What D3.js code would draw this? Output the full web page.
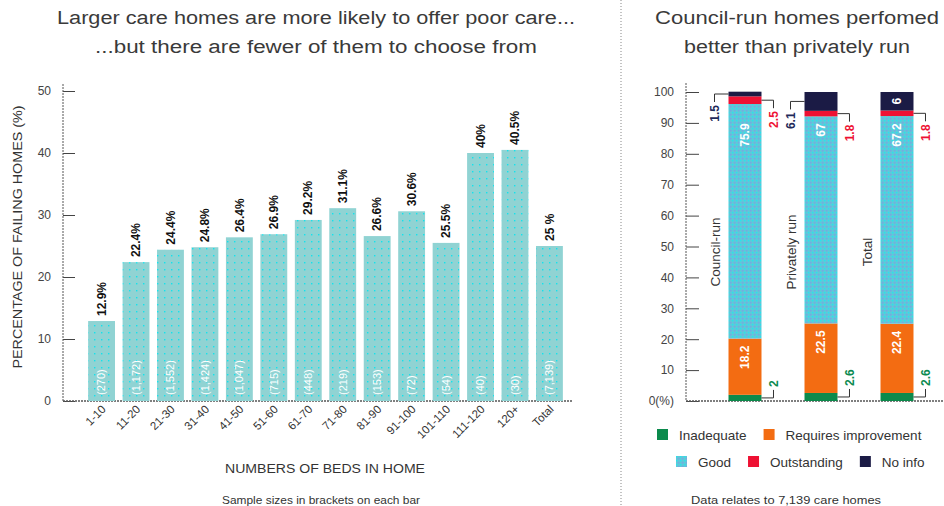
<!DOCTYPE html>
<html><head><meta charset="utf-8">
<script src="https://cdn.jsdelivr.net/npm/d3@7"></script>
<style>
body{margin:0;background:#fff}
svg{display:block}
text{font-family:"Liberation Sans",Arial,sans-serif}
</style>
</head><body><div id="chart"></div>
<script>
// ---------- DATA ----------
const bedCategories = ["1-10","11-20","21-30","31-40","41-50","51-60","61-70","71-80","81-90","91-100","101-110","111-120","120+","Total"];
const failingPct = [12.9,22.4,24.4,24.8,26.4,26.9,29.2,31.1,26.6,30.6,25.5,40,40.5,25];
const failingLabels = ["12.9%","22.4%","24.4%","24.8%","26.4%","26.9%","29.2%","31.1%","26.6%","30.6%","25.5%","40%","40.5%","25 %"];
const sampleSizes = ["(270)","(1,172)","(1,552)","(1,424)","(1,047)","(715)","(448)","(219)","(153)","(72)","(54)","(40)","(30)","(7,139)"];
const leftYTicks = [0,10,20,30,40,50];

const ownerCategories = ["Council-run","Privately run","Total"];
const ratingSeries = ["Inadequate","Requires improvement","Good","Outstanding","No info"];
const inadequate = [2,2.6,2.6];
const requiresImprovement = [18.2,22.5,22.4];
const good = [75.9,67,67.2];
const outstanding = [2.5,1.8,1.8];
const noInfo = [1.5,6.1,6];
const rightYTicks = [0,10,20,30,40,50,60,70,80,90,100];
const rightYTickLabels = ["0(%)","10","20","30","40","50","60","70","80","90","100"];

const leftTitle = ["Larger care homes are more likely to offer poor care...","...but there are fewer of them to choose from"];
const rightTitle = ["Council-run homes perfomed","better than privately run"];

// ---------- SETUP ----------
const W = 944, H = 506;
const svg = d3.select("#chart").append("svg").attr("width", W).attr("height", H);
const defs = svg.append("defs");

const pL = defs.append("pattern").attr("id","dotsL").attr("patternUnits","userSpaceOnUse").attr("width",7).attr("height",7);
pL.append("rect").attr("width",7).attr("height",7).attr("fill","#90d3d3");
pL.append("rect").attr("x",3).attr("y",3).attr("width",1.4).attr("height",1.4).attr("fill","#10e4ee");

const pG = defs.append("pattern").attr("id","dotsG").attr("patternUnits","userSpaceOnUse").attr("width",4).attr("height",4);
pG.append("rect").attr("width",4).attr("height",4).attr("fill","#5ec8d8");
pG.append("rect").attr("x",0).attr("y",0).attr("width",1.3).attr("height",1.3).attr("fill","#22e6f0");
pG.append("rect").attr("x",2).attr("y",2).attr("width",1.3).attr("height",1.3).attr("fill","#7f9ee6");

const seriesFill = {"Inadequate":"#0b8a4c","Requires improvement":"#f36c12","Good":"url(#dotsG)","Outstanding":"#ee1133","No info":"#1b1b45"};
const seriesText = {"Inadequate":"#0a8a50","Requires improvement":"#ffffff","Good":"#ffffff","Outstanding":"#ee1133","No info":"#1f2a5a"};
// where each "No info" label goes (style only)
const noInfoLabelSide = {"Council-run":"left","Privately run":"left","Total":"inside"};

// titles
function title(lines, cx, lens) {
  lines.forEach((t,i) => {
    svg.append("text").attr("x",cx).attr("y",24 + i*29).attr("text-anchor","middle")
      .attr("font-size",18).attr("fill","#3a3a3a")
      .attr("textLength",lens[i]).attr("lengthAdjust","spacingAndGlyphs").text(t);
  });
}
title(leftTitle, 316, [518, 442]);
title(rightTitle, 797, [284, 226]);

// separator
svg.append("line").attr("x1",621).attr("x2",621).attr("y1",0).attr("y2",H)
  .attr("stroke","#888").attr("stroke-dasharray","1,2");

// ---------- LEFT CHART ----------
const yL = d3.scaleLinear().domain([0,50]).range([401,91]);
const xL = d3.scaleBand().domain(bedCategories).range([84,567]).paddingInner(0.22).paddingOuter(0.12);

const gL = svg.append("g");
const axL = gL.append("g").attr("transform","translate(63,0)")
  .call(d3.axisLeft(yL).tickValues(leftYTicks).tickSize(-12).tickSizeOuter(0).tickPadding(12).tickFormat(d3.format("d")));
axL.select(".domain").remove();
axL.selectAll(".tick line").attr("stroke","#444");
axL.selectAll(".tick text").attr("font-size",12).attr("fill","#444").attr("font-family","Liberation Sans, Arial, sans-serif");
gL.append("line").attr("x1",63).attr("x2",63).attr("y1",84).attr("y2",401).attr("stroke","#555").attr("stroke-dasharray","2,1");
gL.append("line").attr("x1",63).attr("x2",572).attr("y1",401).attr("y2",401).attr("stroke","#555").attr("stroke-width",1.5).attr("stroke-dasharray","2,1");

const data = bedCategories.map((c,i)=>({c, v:failingPct[i], lab:failingLabels[i], n:sampleSizes[i]}));
gL.selectAll("rect.bar").data(data).join("rect").attr("class","bar")
  .attr("x",d=>xL(d.c)).attr("width",xL.bandwidth())
  .attr("y",d=>yL(d.v)).attr("height",d=>yL(0)-yL(d.v))
  .attr("fill","url(#dotsL)");

gL.selectAll("text.val").data(data).join("text").attr("class","val")
  .attr("transform",d=>`translate(${xL(d.c)+xL.bandwidth()/2},${yL(d.v)-5}) rotate(-90)`)
  .attr("dy","0.35em").attr("font-size",12).attr("font-weight","bold").attr("fill","#111")
  .text(d=>d.lab);

gL.selectAll("text.n").data(data).join("text").attr("class","n")
  .attr("transform",d=>`translate(${xL(d.c)+xL.bandwidth()/2},${yL(0)-6}) rotate(-90)`)
  .attr("dy","0.35em").attr("font-size",11).attr("fill","#ffffff")
  .text(d=>d.n);

gL.selectAll("text.xl").data(bedCategories).join("text").attr("class","xl")
  .attr("transform",d=>`translate(${xL(d)+xL.bandwidth()/2+5},${410}) rotate(-45)`)
  .attr("text-anchor","end").attr("font-size",11.5).attr("fill","#333")
  .text(d=>d);

gL.append("text").attr("transform","translate(22,237) rotate(-90)").attr("text-anchor","middle")
  .attr("font-size",12).attr("fill","#333").attr("textLength",263).attr("lengthAdjust","spacingAndGlyphs")
  .text("PERCENTAGE OF FAILING HOMES (%)");
gL.append("text").attr("x",325).attr("y",473).attr("text-anchor","middle")
  .attr("font-size",12.5).attr("fill","#333").attr("textLength",200).attr("lengthAdjust","spacingAndGlyphs")
  .text("NUMBERS OF BEDS IN HOME");
gL.append("text").attr("x",321).attr("y",504).attr("text-anchor","middle")
  .attr("font-size",10.5).attr("fill","#333").attr("textLength",198).attr("lengthAdjust","spacingAndGlyphs")
  .text("Sample sizes in brackets on each bar");

// ---------- RIGHT CHART ----------
const yR = d3.scaleLinear().domain([0,100]).range([401,92]);
const xR = d3.scaleBand().domain(ownerCategories).range([707,935]).paddingInner(0.566).paddingOuter(0.283);
const gR = svg.append("g");
const axR = gR.append("g").attr("transform","translate(686,0)")
  .call(d3.axisLeft(yR).tickValues(rightYTicks).tickSize(-13).tickSizeOuter(0).tickPadding(12)
    .tickFormat((d,i)=>rightYTickLabels[i]));
axR.select(".domain").remove();
axR.selectAll(".tick line").attr("stroke","#444");
axR.selectAll(".tick text").attr("font-size",12).attr("fill","#444").attr("font-family","Liberation Sans, Arial, sans-serif");
gR.append("line").attr("x1",686).attr("x2",686).attr("y1",83).attr("y2",401).attr("stroke","#555").attr("stroke-dasharray","2,1");
gR.append("line").attr("x1",686).attr("x2",944).attr("y1",401).attr("y2",401).attr("stroke","#555").attr("stroke-width",1.5).attr("stroke-dasharray","2,1");

const seriesValues = [inadequate, requiresImprovement, good, outstanding, noInfo];
const rows = ownerCategories.map((c,i)=>{
  const o = {c};
  ratingSeries.forEach((s,k)=>o[s]=seriesValues[k][i]);
  return o;
});
const stacked = d3.stack().keys(ratingSeries)(rows);

stacked.forEach(layer=>{
  gR.selectAll(null).data(layer).join("rect")
    .attr("x",d=>xR(d.data.c)).attr("width",xR.bandwidth())
    .attr("y",d=>yR(d[1])).attr("height",d=>yR(d[0])-yR(d[1]))
    .attr("fill",seriesFill[layer.key]);
});

// value labels
stacked.forEach(layer=>{
  const key = layer.key;
  const lowestTop = d3.min(layer, d=>d[1]);
  layer.forEach(d=>{
    const v = d[1]-d[0];
    const x0 = xR(d.data.c), x1 = x0 + xR.bandwidth(), xc = x0 + xR.bandwidth()/2;
    const ym = yR((d[0]+d[1])/2);
    const txt = String(v===Math.round(v)?v:d3.format(".1f")(v));
    let mode;
    if (key==="Inadequate") mode="rightLow";
    else if (key==="Outstanding") mode="rightHigh";
    else if (key==="No info") mode = noInfoLabelSide[d.data.c]==="inside" ? "insideMid" : "left";
    else mode="insideTop";
    if (mode==="insideTop") {
      const top = key==="Good" ? yR(lowestTop) : yR(d[1]);
      gR.append("text").attr("transform",`translate(${xc},${top+7}) rotate(-90)`)
        .attr("text-anchor","end").attr("dy","0.35em").attr("font-size",12).attr("font-weight","bold")
        .attr("fill","#fff").text(txt);
    } else if (mode==="insideMid") {
      gR.append("text").attr("transform",`translate(${xc},${ym}) rotate(-90)`)
        .attr("text-anchor","middle").attr("dy","0.35em").attr("font-size",12).attr("font-weight","bold")
        .attr("fill","#fff").text(txt);
    } else if (mode==="rightHigh") {
      const xl = x1 + 12;
      gR.append("path").attr("d",`M${x1},${ym}H${xl}V${ym+8}`).attr("fill","none").attr("stroke","#333");
      gR.append("text").attr("transform",`translate(${xl},${ym+11}) rotate(-90)`)
        .attr("text-anchor","end").attr("dy","0.35em").attr("font-size",12).attr("font-weight","bold")
        .attr("fill",seriesText[key]).text(txt);
    } else if (mode==="rightLow") {
      const xl = x1 + 12;
      gR.append("path").attr("d",`M${x1},${ym}H${xl}V${ym-8}`).attr("fill","none").attr("stroke","#333");
      gR.append("text").attr("transform",`translate(${xl},${ym-11}) rotate(-90)`)
        .attr("text-anchor","start").attr("dy","0.35em").attr("font-size",12).attr("font-weight","bold")
        .attr("fill",seriesText[key]).text(txt);
    } else {
      const xl = x0 - 14;
      gR.append("path").attr("d",`M${x0},${ym}H${xl}V${ym+8}`).attr("fill","none").attr("stroke","#333");
      gR.append("text").attr("transform",`translate(${xl},${ym+11}) rotate(-90)`)
        .attr("text-anchor","end").attr("dy","0.35em").attr("font-size",12).attr("font-weight","bold")
        .attr("fill",seriesText[key]).text(txt);
    }
  });
});

// category labels
gR.selectAll("text.cat").data(ownerCategories).join("text").attr("class","cat")
  .attr("transform",d=>`translate(${xR(d)-13},252) rotate(-90)`)
  .attr("text-anchor","middle").attr("dy","0.35em").attr("font-size",13.5).attr("fill","#333")
  .text(d=>d);

// legend
const legendRows = [["Inadequate","Requires improvement"],["Good","Outstanding","No info"]];
const legendY = [435, 462];
const legendX0 = [657, 676];
legendRows.forEach((row,ri)=>{
  let x = legendX0[ri];
  row.forEach(k=>{
    gR.append("rect").attr("x",x).attr("y",legendY[ri]-6).attr("width",11).attr("height",11).attr("fill",seriesFill[k]);
    const t = gR.append("text").attr("x",x+22).attr("y",legendY[ri]).attr("dy","0.35em")
      .attr("font-size",13.5).attr("fill","#333").text(k);
    x += 22 + t.node().getComputedTextLength() + 17;
  });
});

gR.append("text").attr("x",786).attr("y",504).attr("text-anchor","middle")
  .attr("font-size",10.5).attr("fill","#333").attr("textLength",190).attr("lengthAdjust","spacingAndGlyphs")
  .text("Data relates to 7,139 care homes");
</script>
</body></html>
